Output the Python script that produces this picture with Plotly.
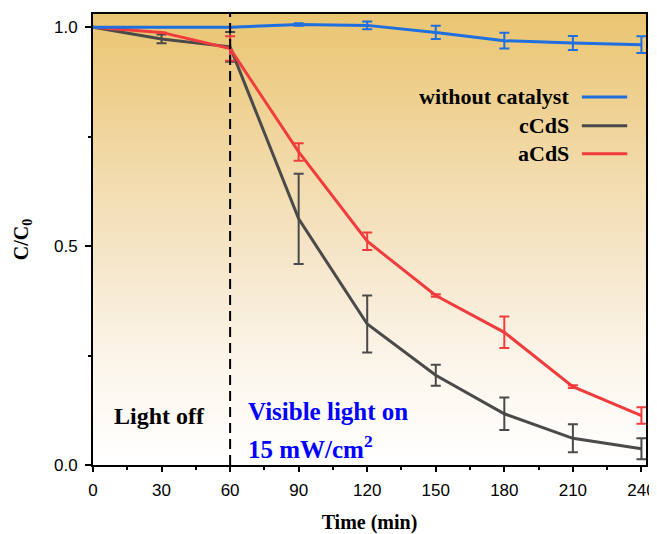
import plotly.graph_objects as go

# ---- data ----
time_min = [0, 30, 60, 90, 120, 150, 180, 210, 240]

blank_c = [1.0, 1.0, 1.0, 1.006, 1.004, 0.988, 0.969, 0.964, 0.960]
blank_err = [0, 0, 0, 0.003, 0.009, 0.015, 0.018, 0.016, 0.019]

ccds_c = [1.0, 0.973, 0.955, 0.562, 0.322, 0.205, 0.117, 0.061, 0.037]
ccds_err = [0, 0.010, 0.034, 0.103, 0.065, 0.024, 0.037, 0.032, 0.024]

acds_c = [1.0, 0.988, 0.951, 0.715, 0.511, 0.387, 0.303, 0.179, 0.113]
acds_err = [0, 0, 0.028, 0.020, 0.020, 0.003, 0.036, 0.003, 0.019]

series_names = ["without catalyst", "cCdS", "aCdS"]
series_colors = ["#1F6FE0", "#4A4A4A", "#F03C3C"]

light_on_time = 60
x_ticks = [0, 30, 60, 90, 120, 150, 180, 210, 240]
y_ticks = [0.0, 0.5, 1.0]

# background gradient levels (C/C0 value -> colour)
bg_levels = [-0.1, 0.0, 0.15, 0.3, 0.5, 0.7, 0.85, 1.03, 1.2]
bg_colorscale = [
    [0.0, "#FFFFFF"],
    [0.08, "#FFFFFF"],
    [0.2, "#FDF9F2"],
    [0.32, "#FAF0E0"],
    [0.47, "#F5E4C4"],
    [0.63, "#F1D8A4"],
    [0.76, "#EDCD88"],
    [0.88, "#EAC56F"],
    [1.0, "#E9C366"],
]

SERIF = "Liberation Serif, Times New Roman, serif"
SANS = "Liberation Sans, Arial, sans-serif"

fig = go.Figure()

# gradient background
fig.add_trace(go.Heatmap(
    x=[-20, 260],
    y=bg_levels,
    z=[[v, v] for v in bg_levels],
    zmin=bg_levels[0], zmax=bg_levels[-1],
    colorscale=bg_colorscale,
    zsmooth="best",
    showscale=False,
    hoverinfo="skip",
))

ys = {"without catalyst": (blank_c, blank_err),
      "cCdS": (ccds_c, ccds_err),
      "aCdS": (acds_c, acds_err)}

for name in ["cCdS", "aCdS", "without catalyst"]:
    c, e = ys[name]
    col = series_colors[series_names.index(name)]
    fig.add_trace(go.Scatter(
        x=time_min, y=c, mode="lines", name=name,
        line=dict(color=col, width=3),
        error_y=dict(type="data", array=e, visible=True, color=col,
                     thickness=2, width=5),
        showlegend=False,
    ))

fig.add_vline(x=light_on_time, line=dict(color="black", width=2, dash="10px,6px"))

# custom legend: text then line sample on the right
legend_y = [0.816, 0.752, 0.690]
for name, col, ly in zip(series_names, series_colors, legend_y):
    fig.add_annotation(xref="paper", yref="paper", x=0.864, y=ly,
                       text=f"<b>{name}</b>", showarrow=False,
                       xanchor="right", yanchor="middle",
                       font=dict(family=SERIF, size=22, color="black"))
    fig.add_shape(type="line", xref="paper", yref="paper",
                  x0=0.884, x1=0.966, y0=ly, y1=ly,
                  line=dict(color=col, width=3))

fig.add_annotation(x=29, y=0.113, text="<b>Light off</b>", showarrow=False,
                   xanchor="center", yanchor="middle",
                   font=dict(family=SERIF, size=24, color="black"))
fig.add_annotation(x=67.0, y=0.122, text="<b>Visible light on</b>", showarrow=False,
                   xanchor="left", yanchor="middle",
                   font=dict(family=SERIF, size=25, color="#0000FF"))
fig.add_annotation(x=67.0, y=0.04, text="<b>15 mW/cm<sup>2</sup></b>", showarrow=False,
                   xanchor="left", yanchor="middle",
                   font=dict(family=SERIF, size=25, color="#0000FF"))

# the page body has an 8px margin, so the figure is shifted by 8px
fig.update_layout(
    width=649, height=526,
    margin=dict(l=85, r=11, t=6, b=69),
    paper_bgcolor="white", plot_bgcolor="white",
    xaxis=dict(
        range=[0, 242], tickvals=x_ticks, ticktext=[str(t) for t in x_ticks],
        automargin=False,
        ticks="outside", ticklen=5, tickwidth=1.5, tickcolor="black",
        ticklabelstandoff=4,
        minor=dict(ticks="outside", ticklen=3, dtick=15, tick0=0, tickcolor="black"),
        showline=True, linecolor="black", linewidth=2, mirror=True,
        showgrid=False, zeroline=False,
        tickfont=dict(family=SANS, size=17, color="black"),
        title=dict(text="<b>Time (min)</b>", standoff=25,
                   font=dict(family=SERIF, size=20, color="black")),
    ),
    yaxis=dict(
        range=[0, 1.03], tickvals=y_ticks, ticktext=["0.0", "0.5", "1.0"],
        automargin=False,
        ticks="outside", ticklen=6, tickwidth=1.5, tickcolor="black",
        ticklabelstandoff=4,
        minor=dict(ticks="outside", ticklen=3, dtick=0.25, tick0=0, tickcolor="black"),
        showline=True, linecolor="black", linewidth=2, mirror=True,
        showgrid=False, zeroline=False,
        tickfont=dict(family=SANS, size=17, color="black"),
        title=dict(text="<b>C/C<sub>0</sub></b>", standoff=20,
                   font=dict(family=SERIF, size=20, color="black")),
    ),
)

fig.write_html("out.html")
